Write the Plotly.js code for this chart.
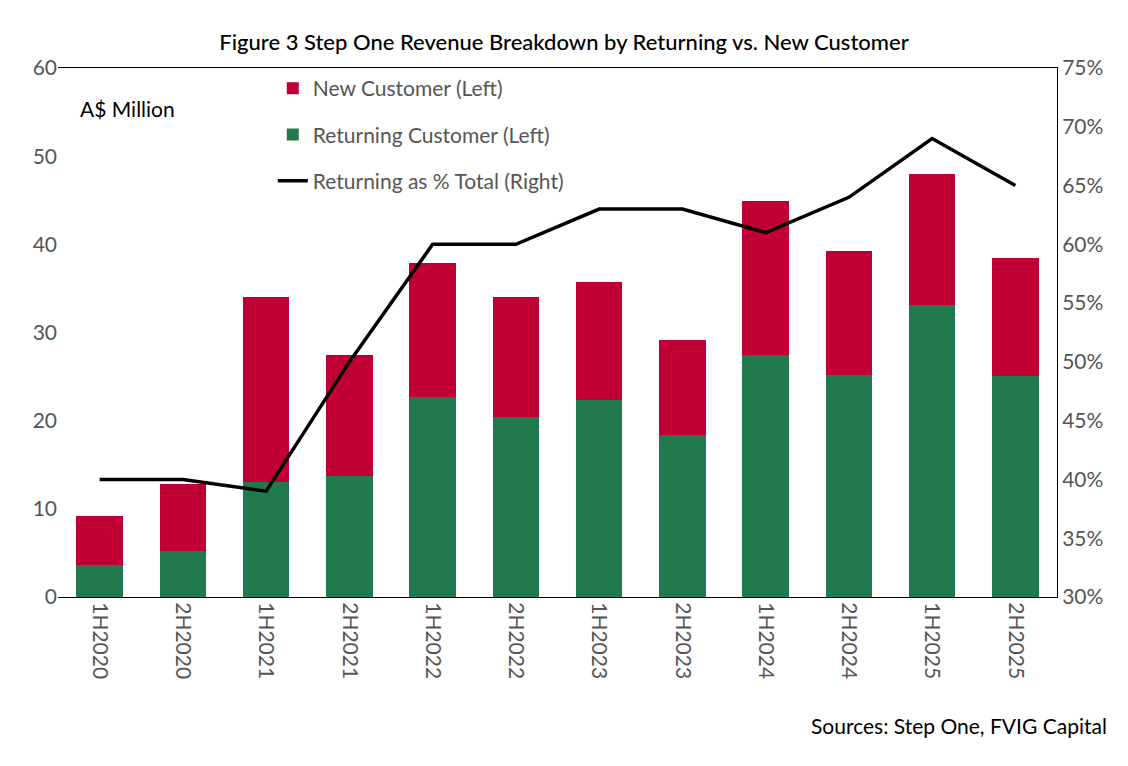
<!DOCTYPE html>
<html><head><meta charset="utf-8">
<script src="https://cdn.plot.ly/plotly-3.0.1.min.js"></script>
<style>body{margin:0}#chart{width:1128px;height:766px}</style>
</head><body><div id="chart"></div>
<script>
const periods = ['1H2020','2H2020','1H2021','2H2021','1H2022','2H2022','1H2023','2H2023','1H2024','2H2024','1H2025','2H2025'];
const totalRevenue = [9.2,12.8,34.0,27.4,37.9,34.0,35.7,29.1,44.9,39.3,48.0,38.5];
const returningRevenue = [3.6,5.2,13.0,13.7,22.7,20.4,22.4,18.4,27.4,25.2,33.1,25.1];
const returningPct = [40,40,39,50,60,60,63,63,61,64,69,65];
const newRevenue = totalRevenue.map((t, i) => +(t - returningRevenue[i]).toFixed(1));

const data = [
  {x: periods, y: returningRevenue, type: 'bar', name: 'Returning Customer (Left)', legendrank: 2,
   legendgroup: 'b', marker: {color: '#217A4E'}},
  {x: periods, y: newRevenue, type: 'bar', name: 'New Customer (Left)', legendrank: 1,
   legendgroup: 'a', marker: {color: '#C00035'}},
  {x: periods, y: returningPct, type: 'scatter', mode: 'lines', yaxis: 'y2', legendrank: 3,
   legendgroup: 'c', name: 'Returning as % Total (Right)', line: {color: '#000', width: 3.5}}
];

const layout = {
  width: 1128, height: 766,
  barmode: 'stack', bargap: 0.44,
  font: {family: 'Lato, sans-serif', size: 21, color: '#333'},
  margin: {l: 58, r: 71, t: 68, b: 169},
  title: {text: 'Figure 3 Step One Revenue Breakdown by Returning vs. New Customer',
          x: 0.5, y: 0.955, font: {size: 22, color: '#000', weight: 500}},
  xaxis: {tickangle: 90, showline: true, linecolor: '#000', mirror: true, ticks: '', tickfont: {size: 21, color: '#555'}},
  yaxis: {range: [0, 60], dtick: 10, showgrid: false, ticks: '', tickfont: {size: 21, color: '#555'}},
  yaxis2: {range: [30, 75], dtick: 5, ticksuffix: '%', overlaying: 'y', side: 'right',
           showgrid: false, showline: true, linecolor: '#000', ticks: '', tickfont: {size: 21, color: '#555'}},
  legend: {x: 0.215, y: 1.0, xanchor: 'left', yanchor: 'top', traceorder: 'grouped',
           font: {size: 21, color: '#555'}, bgcolor: 'rgba(0,0,0,0)', tracegroupgap: 16},
  annotations: [
    {text: 'A$ Million', xref: 'paper', yref: 'paper', x: 0.02, y: 0.95, showarrow: false,
     xanchor: 'left', font: {size: 21, color: '#000'}},
    {text: 'Sources: Step One, FVIG Capital', xref: 'paper', yref: 'paper', x: 1.052, y: -0.27,
     showarrow: false, xanchor: 'right', font: {size: 21, color: '#000'}}
  ]
};
Plotly.newPlot('chart', data, layout, {displayModeBar: false});
</script></body></html>
